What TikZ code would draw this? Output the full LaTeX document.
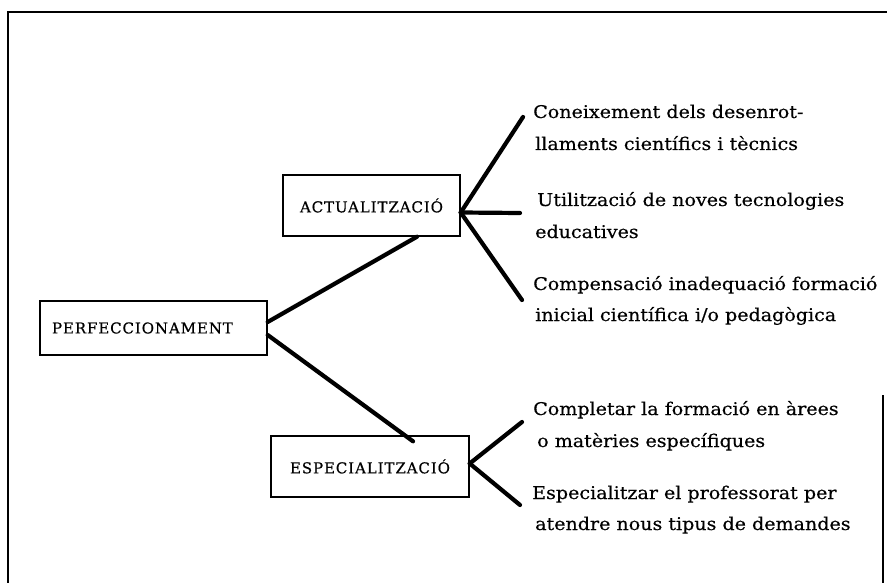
\documentclass[tikz,border=0pt]{standalone}
\usepackage{fontspec}
\setmainfont[FakeStretch=1.09,FakeBold=0.4]{DejaVu Serif}
\newfontfamily\capfont[LetterSpace=6,FakeBold=0.5]{DejaVu Serif}
\begin{document}
\begin{tikzpicture}[x=1pt,y=-1pt,
  box/.style={draw,line width=1.4pt,rectangle,inner sep=0pt,font=\capfont\fontsize{15}{17}\selectfont},
  conn/.style={line width=4.2pt,line cap=round},
  frame/.style={line width=1.6pt},
  item/.style={anchor=base west,inner sep=0pt,font=\fontsize{17.5}{20}\selectfont}]
\useasboundingbox (0,0) rectangle (887,583);
% frame
\coordinate (ftl) at (8,12);
\coordinate (ftr) at (887,12);
\coordinate (fbl) at (8,583);
\coordinate (frt) at (883,395);
\coordinate (frb) at (883,583);
\draw[frame,line width=2pt] (ftr) -- (ftl) -- (fbl);
\draw[frame] (frt) -- (frb);
% boxes
\node[box,minimum width=227,minimum height=54,text width=203,align=left,inner xsep=12pt] (perf) at (153.5,328) {PERFECCIONAMENT};
\node[box,minimum width=177,minimum height=61] (act) at (371.5,205.5) {ACTUALITZACIÓ};
\node[box,minimum width=198,minimum height=61] (esp) at (370,466.5) {ESPECIALITZACIÓ};
% main connectors
\draw[conn] ([yshift=6pt]perf.east) -- ([xshift=45.5pt]act.south);
\draw[conn] ([yshift=-7pt]perf.east) -- ([xshift=43pt,yshift=-6pt]esp.north);
% fan endpoints
\coordinate (a1) at (523,117);
\coordinate (a2) at (520,213);
\coordinate (a3) at (522,300);
\coordinate (e1) at (522,422);
\coordinate (e2) at (520,505);
\coordinate (aj) at ([yshift=-7pt]act.east);
\coordinate (ej) at ([yshift=3pt]esp.east);
\draw[conn] (aj) -- (a1);
\draw[conn] (aj) -- (a2);
\draw[conn] (aj) -- (a3);
\draw[conn] (ej) -- (e1);
\draw[conn] (ej) -- (e2);
% texts
\node[item] (t1a) at (533,118) {Coneixement dels desenrot-};
\node[item] (t1b) at (535,150) {llaments científics i tècnics};
\node[item] (t2a) at (537,206) {Utilització de noves tecnologies};
\node[item] (t2b) at (535,238) {educatives};
\node[item] (t3a) at (533,290) {Compensació inadequació formació};
\node[item] (t3b) at (535,321) {inicial científica i/o pedagògica};
\node[item] (t4a) at (533,415) {Completar la formació en àrees};
\node[item] (t4b) at (537,447) {o matèries específiques};
\node[item] (t5a) at (532,499) {Especialitzar el professorat per};
\node[item] (t5b) at (535,530) {atendre nous tipus de demandes};
\end{tikzpicture}
\end{document}
